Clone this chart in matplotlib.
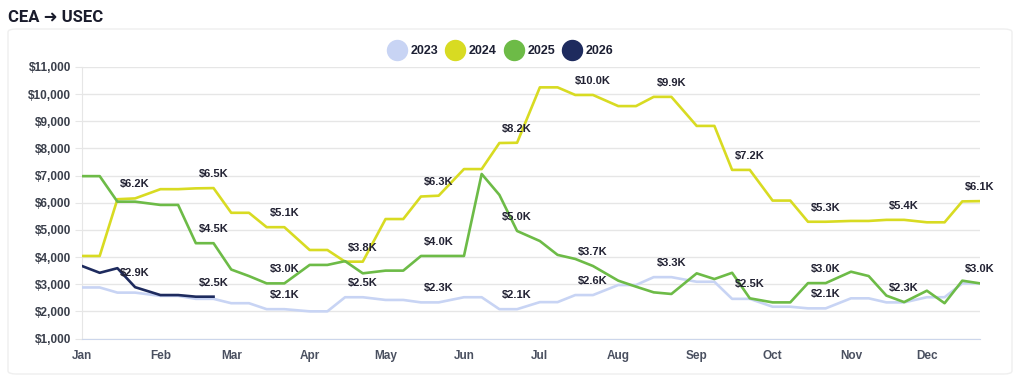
import numpy as np
import pandas as pd
import matplotlib
matplotlib.use('Agg')
import matplotlib.pyplot as plt
from matplotlib.lines import Line2D
from matplotlib.patches import FancyBboxPatch
from matplotlib.ticker import FuncFormatter

# weekly-ish readings: 1st, 8th, 15th and 22nd of every month
months = ['Jan', 'Feb', 'Mar', 'Apr', 'May', 'Jun',
          'Jul', 'Aug', 'Sep', 'Oct', 'Nov', 'Dec']
point_days = [1, 8, 15, 22]

y2023 = [2880, 2880, 2690, 2690, 2570, 2570, 2460, 2460, 2300, 2300, 2080, 2080,
         2000, 2000, 2520, 2520, 2420, 2420, 2330, 2330, 2520, 2520, 2080, 2080,
         2340, 2340, 2600, 2600, 2970, 2970, 3260, 3260, 3090, 3090, 2460, 2460,
         2170, 2170, 2110, 2110, 2480, 2480, 2330, 2330, 2520, 2520, 3030, 3030]
y2024 = [4040, 4040, 6130, 6160, 6500, 6500, 6530, 6540, 5630, 5630, 5100, 5100,
         4260, 4260, 3830, 3830, 5400, 5400, 6230, 6260, 7240, 7240, 8200, 8210,
         10250, 10250, 9970, 9970, 9560, 9560, 9900, 9900, 8830, 8830, 7210, 7210,
         6080, 6080, 5300, 5300, 5330, 5330, 5370, 5370, 5280, 5280, 6050, 6060]
y2025 = [6980, 6980, 6040, 6040, 5920, 5920, 4510, 4510, 3540, 3300, 3030, 3030,
         3710, 3710, 3850, 3400, 3500, 3500, 4040, 4040, 4040, 7060, 6290, 4960,
         4590, 4080, 3930, 3670, 3130, 2910, 2700, 2640, 3400, 3190, 3420, 2480,
         2330, 2330, 3040, 3040, 3460, 3300, 2580, 2340, 2760, 2300, 3130, 3030]
y2026 = [3670, 3420, 3590, 2890, 2600, 2600, 2540, 2540]

series = [('2023', y2023, '#c8d4f4'),
          ('2024', y2024, '#d8db22'),
          ('2025', y2025, '#6dbb47'),
          ('2026', y2026, '#1e2b5e')]

x = np.array([pd.Timestamp(2023, m + 1, d).dayofyear - 1
              for m in range(12) for d in point_days])
month_starts = [pd.Timestamp(2023, m + 1, 1).dayofyear - 1 for m in range(12)]

plt.rcParams['font.family'] = ['Liberation Sans', 'DejaVu Sans']

W, H = 1020, 377
fig = plt.figure(figsize=(W / 100, H / 100), dpi=100)

# faint card behind the chart
card = FancyBboxPatch((8 / W, 3 / H), 1004 / W, 345 / H,
                      boxstyle='round,pad=0,rounding_size=0.008',
                      transform=fig.transFigure, facecolor='white',
                      edgecolor='#efefef', linewidth=1, zorder=-10)
fig.patches.append(card)

fig.text(8 / W, 1 - 17 / H, 'CEA \u279c USEC', fontsize=12, fontweight='bold',
         family=['Roboto', 'DejaVu Sans'], va='center', ha='left', color='#1a1c2c')

ax = fig.add_axes([82 / W, 1 - 338.5 / H, 898 / W, (338.5 - 67) / H])
ax.set_facecolor('none')

for name, vals, col in series:
    ax.plot(x[:len(vals)], vals, color=col, lw=1.9, label=name, zorder=3)

# data labels on the 22nd of each month, hiding ones that would overlap
for m in range(12):
    idx = 4 * m + 3
    cands = sorted([v[idx] for _, v, _ in series if len(v) > idx], reverse=True)
    kept = []
    for v in cands:
        if all(abs(v - k) > 750 for k in kept):
            kept.append(v)
            ax.annotate(f'${v / 1000:.1f}K', (x[idx], v), xytext=(0, 6.5),
                        textcoords='offset points', ha='center', va='bottom',
                        fontsize=8, fontweight='bold', color='#222233', zorder=4)

ax.set_xlim(0, x[-1])
ax.set_ylim(1000, 11000)
ax.set_yticks(np.arange(1000, 11001, 1000))
ax.yaxis.set_major_formatter(FuncFormatter(lambda v, p: f'${v:,.0f}'))
ax.set_xticks(month_starts)
ax.set_xticklabels(months)
ax.grid(axis='y', color='#e6e6e6', lw=1, zorder=0)
ax.tick_params(axis='y', length=5, color='#e6e6e6', pad=3, labelsize=8.5,
               labelcolor='#3a3f4b')
ax.tick_params(axis='x', length=0, pad=8, labelsize=8.5, labelcolor='#4a5060')
for lab in ax.get_xticklabels() + ax.get_yticklabels():
    lab.set_fontweight('bold')
for s in ['top', 'right']:
    ax.spines[s].set_visible(False)
ax.spines['left'].set_color('#e6e6e6')
ax.spines['bottom'].set_color('#ccd6eb')

handles = [Line2D([], [], ls='none', marker='o', markersize=14.4,
                  markerfacecolor=c, markeredgecolor=c) for _, _, c in series]
leg = fig.legend(handles, [n for n, _, _ in series], loc='center',
                 bbox_to_anchor=(500 / W, 1 - 51 / H), ncol=4, frameon=False,
                 handlelength=1.6, handletextpad=0.3, columnspacing=0.55,
                 prop={'size': 9, 'weight': 'bold'})
for t in leg.get_texts():
    t.set_color('#1c1f33')

fig.savefig('out.png', dpi=100)
